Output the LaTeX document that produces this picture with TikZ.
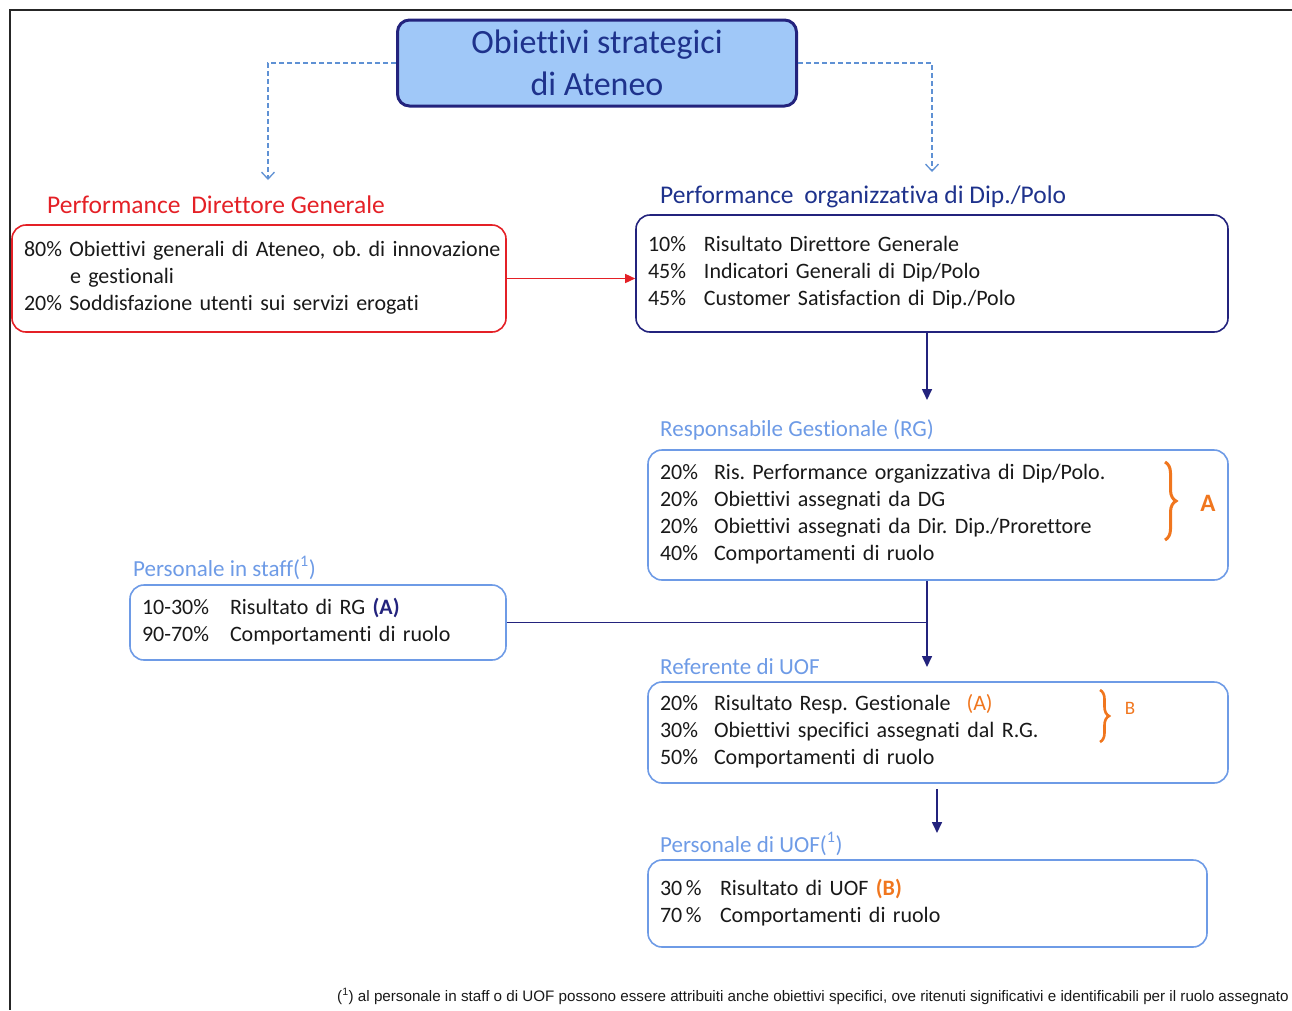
\documentclass[tikz,border=0pt]{standalone}
\usepackage{fontspec}
\setmainfont{Carlito}[Ligatures=NoCommon]
\newfontfamily\notefont{Liberation Sans}
\usepackage{tikz}
\usetikzlibrary{arrows.meta, decorations.pathreplacing, positioning}
\definecolor{atnavy}{RGB}{35, 35, 125}
\definecolor{attitle}{RGB}{30, 50, 140}
\definecolor{atblue}{RGB}{110, 155, 230}
\definecolor{atfill}{RGB}{160, 200, 248}
\definecolor{atred}{RGB}{228, 32, 38}
\definecolor{atorange}{RGB}{240, 118, 30}
\definecolor{atdash}{RGB}{95, 145, 212}
\definecolor{atink}{RGB}{25, 25, 25}
\frenchspacing

\begin{document}
\begin{tikzpicture}[x=1pt, y=-1pt,
  every node/.style={font=\fontsize{22}{27}\selectfont, text=atink},
  box/.style={draw, rounded corners=14pt, line width=1.6pt, inner xsep=12pt, inner ysep=0pt, align=left},
  lbl/.style={anchor=base west, inner sep=0pt},
  dashlink/.style={atdash, line width=1.3pt, dash pattern=on 5pt off 3pt, -{Straight Barb[length=7pt, width=13pt]}},
  navylink/.style={atnavy, line width=1.6pt, -{Triangle[length=11pt, width=10pt]}},
  orbrace/.style={atorange, line width=3pt, decorate}]
  \useasboundingbox (0,0) rectangle (1292,1010);
  % frame
  \draw[line width=2.2pt, black!85] (1292,10) -- (10,10) -- (10,1010);

  % top box
  \node[draw=atnavy, fill=atfill, line width=3pt, rounded corners=12pt,
        minimum width=399pt, minimum height=86pt, align=center, text=attitle,
        font=\fontsize{34}{42}\selectfont] (obj) at (597,63) {Obiettivi strategici\\di Ateneo};
  \coordinate (pdg-in) at (268,180);
  \coordinate (porg-in) at (932,172);
  \draw[dashlink] (obj.west) -| (pdg-in);
  \draw[dashlink] (obj.east) -| (porg-in);

  % direttore generale
  \node[lbl, text=atred, font=\fontsize{25.5}{30}\selectfont] (pdg-t) at (47,213) {Performance\hspace{5pt} Direttore Generale};
  \node[box, draw=atred, text width=470pt, minimum height=107pt] (pdg) at (259,278.5)
    {\begin{tabular}{@{}l@{}}
     80\% Obiettivi generali di Ateneo, ob. di innovazione\\
     \hspace*{46pt}e gestionali\\
     20\% Soddisfazione utenti sui servizi erogati
     \end{tabular}};

  % dip./polo
  \node[lbl, text=attitle, font=\fontsize{25.5}{30}\selectfont] (porg-t) at (660,203) {Performance\hspace{5pt} organizzativa di Dip./Polo};
  \node[box, draw=atnavy, text width=568pt, minimum height=117pt] (porg) at (932,273.5)
    {\begin{tabular}{@{}p{56pt}@{}l@{}}
     10\% & Risultato Direttore Generale\\
     45\% & Indicatori Generali di Dip/Polo\\
     45\% & Customer Satisfaction di Dip./Polo
     \end{tabular}};
  \draw[atred, line width=1.4pt, -{Triangle[length=10pt, width=9pt]}] (pdg.east) -- (pdg.east -| porg.west);

  % responsabile gestionale
  \coordinate (rg-in) at (927,400);
  \draw[navylink] (porg.south -| rg-in) -- (rg-in);
  \node[lbl, text=atblue, font=\fontsize{23}{27}\selectfont] (rg-t) at (660,436) {Responsabile Gestionale (RG)};
  \node[box, draw=atblue, text width=556pt, minimum height=130pt] (rg) at (938,515)
    {\begin{tabular}{@{}p{54pt}@{}l@{}}
     20\% & Ris. Performance organizzativa di Dip/Polo.\\
     20\% & Obiettivi assegnati da DG\\
     20\% & Obiettivi assegnati da Dir. Dip./Prorettore\\
     40\% & Comportamenti di ruolo
     \end{tabular}};
  \draw[orbrace, decoration={brace, amplitude=11pt}] (1165,462) -- (1165,540);
  \node[text=atorange, font=\fontsize{25}{28}\selectfont\bfseries] (brace-a) at (1208,503) {A};

  % personale in staff
  \node[lbl, text=atblue, font=\fontsize{23}{27}\selectfont] (staff-t) at (133,576) {Personale in staff(\textsuperscript{1})};
  \node[box, draw=atblue, text width=352pt, minimum height=75pt] (staff) at (318,622.5)
    {\begin{tabular}{@{}p{88pt}@{}l@{}}
     10-30\% & Risultato di RG \textcolor{atnavy}{\bfseries(A)}\\
     90-70\% & Comportamenti di ruolo
     \end{tabular}};

  % referente di uof
  \coordinate (ref-in) at (927,667);
  \draw[navylink] (rg.south -| ref-in) -- (ref-in);
  \draw[atnavy, line width=1.6pt] (staff.east) -- (staff.east -| ref-in);
  \node[lbl, text=atblue, font=\fontsize{23}{27}\selectfont] (ref-t) at (660,674) {Referente di UOF};
  \node[box, draw=atblue, text width=556pt, minimum height=101pt] (ref) at (938,732.5)
    {\begin{tabular}{@{}p{54pt}@{}l@{}}
     20\% & Risultato Resp. Gestionale\hspace{16pt}\textcolor{atorange}{(A)}\\
     30\% & Obiettivi specifici assegnati dal R.G.\\
     50\% & Comportamenti di ruolo
     \end{tabular}};
  \draw[orbrace, line width=2.6pt, decoration={brace, amplitude=9pt}] (1100,690) -- (1100,742);
  \node[text=atorange, font=\fontsize{19}{22}\selectfont] (brace-b) at (1130,708) {B};

  % personale di uof
  \coordinate (puof-in) at (937,833);
  \draw[navylink] (ref.south -| puof-in) ++(0,5) -- (puof-in);
  \node[lbl, text=atblue, font=\fontsize{23}{27}\selectfont] (puof-t) at (660,852) {Personale di UOF(\textsuperscript{1})};
  \node[box, draw=atblue, text width=535pt, minimum height=87pt] (puof) at (927.5,903.5)
    {\begin{tabular}{@{}p{60pt}@{}l@{}}
     30\,\% & Risultato di UOF \textcolor{atorange}{\bfseries(B)}\\
     70\,\% & Comportamenti di ruolo
     \end{tabular}};

  % footnote
  \node[lbl, font=\notefont\fontsize{15.2}{18}\selectfont] (note) at (337,1001)
    {(\textsuperscript{1}) al personale\ in staff o di UOF\ possono essere attribuiti anche obiettivi specifici, ove\ ritenuti significativi e identificabili per il ruolo assegnato};
\end{tikzpicture}
\end{document}
